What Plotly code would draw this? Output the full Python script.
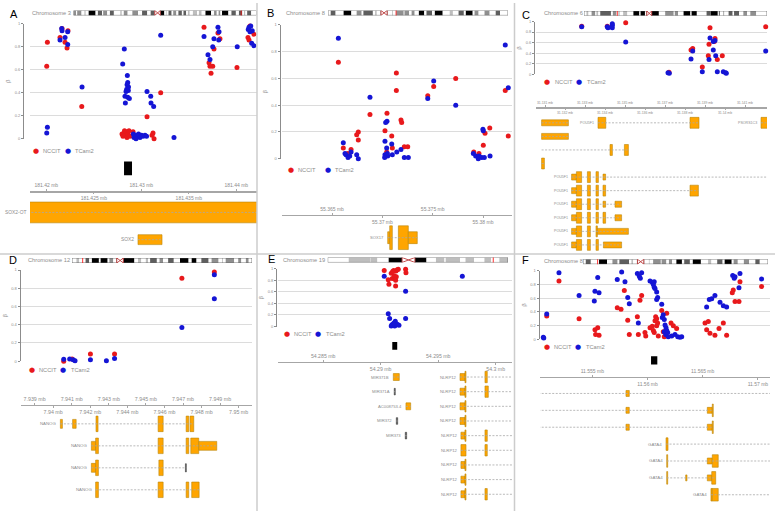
import plotly.graph_objects as go

W, H = 775, 513
RED, BLUE = '#E8191C', '#1515D5'
GREY_TXT = '#8C8C8C'
EXON_FILL, EXON_LINE = '#FFA500', '#B8860B'
STAIN_COLOR = {'g0': '#FFFFFF', 'g25': '#BEBEBE', 'g50': '#8F8F8F', 'g75': '#5E5E5E',
               'g100': '#000000', 'gvar': '#000000'}
BETA_TICKS = [0, 0.2, 0.4, 0.6, 0.8, 1]

# ---------------- cytobands (Mb) ----------------
CHR3_band_end = [2.8, 4.0, 8.7, 11.8, 13.3, 16.4, 23.9, 26.4, 30.9, 32.1, 36.5, 39.4, 43.7, 44.1, 44.2, 50.6,
                 52.3, 54.4, 58.6, 63.7, 69.8, 74.2, 79.8, 83.5, 87.2, 87.9, 91.0, 93.9, 98.3, 100.0, 100.9,
                 102.8, 106.2, 107.9, 111.3, 113.5, 117.3, 119.0, 121.9, 123.8, 125.8, 129.2, 133.7, 135.7,
                 138.7, 142.8, 148.9, 152.1, 155.0, 157.0, 159.0, 160.7, 167.6, 170.9, 175.7, 179.0, 182.7,
                 184.5, 186.0, 187.9, 192.3, 198.0]
CHR3_band_stain = ['g50', 'g0', 'g50', 'g0', 'g25', 'g0', 'g100', 'g0', 'g75', 'g0',
                   'g50', 'g0', 'g75', 'g0', 'g50', 'g0', 'g25', 'g0', 'g50', 'g0',
                   'g50', 'g0', 'g75', 'g0', 'g75', 'g0', 'acen', 'acen', 'gvar', 'g0',
                   'g25', 'g0', 'g75', 'g0', 'g50', 'g0', 'g75', 'g0', 'g75', 'g0',
                   'g25', 'g0', 'g25', 'g0', 'g25', 'g0', 'g100', 'g0', 'g50', 'g0',
                   'g50', 'g0', 'g100', 'g0', 'g75', 'g0', 'g75', 'g0', 'g25', 'g0',
                   'g75', 'g0']
CHR8_band_end = [2.2, 6.2, 12.7, 19.0, 23.3, 27.4, 28.8, 36.5, 38.3, 39.7, 43.1, 45.6, 48.1, 52.2, 52.6, 55.5,
                 61.6, 62.2, 66.0, 68.0, 70.5, 73.9, 78.3, 80.1, 84.6, 86.9, 93.3, 99.0, 101.6, 106.2, 110.5,
                 112.1, 117.7, 119.2, 122.5, 127.3, 131.5, 136.4, 139.9, 146.4]
CHR8_band_stain = ['g0', 'g75', 'g0', 'g100', 'g0', 'g50', 'g0', 'g75', 'g0', 'g25',
                   'g0', 'acen', 'acen', 'g0', 'g75', 'g0', 'g50', 'g0', 'g50', 'g0',
                   'g50', 'g0', 'g100', 'g0', 'g75', 'g0', 'g100', 'g0', 'g25', 'g0',
                   'g75', 'g0', 'g100', 'g0', 'g50', 'g0', 'g50', 'g0', 'g75', 'g0']
CHR6_band_end = [2.3, 4.2, 7.1, 10.6, 11.6, 13.4, 15.2, 25.2, 27.0, 30.4, 32.1, 33.5, 36.6, 40.5, 46.2, 51.8,
                 52.9, 57.0, 58.7, 61.0, 63.3, 63.4, 70.0, 75.9, 83.9, 84.9, 88.0, 93.1, 99.5, 100.6, 105.5,
                 114.6, 118.3, 118.4, 125.1, 126.1, 127.1, 130.3, 131.2, 135.2, 139.0, 140.3, 145.0, 149.0,
                 152.5, 155.5, 161.0, 171.1]
CHR6_band_stain = ['g0', 'g25', 'g0', 'g50', 'g0', 'g25', 'g0', 'g75', 'g0', 'g50',
                   'g0', 'g25', 'g0', 'g25', 'g0', 'g100', 'g0', 'g100', 'g0', 'acen',
                   'acen', 'g0', 'g100', 'g0', 'g50', 'g0', 'g50', 'g0', 'g100', 'g0',
                   'g100', 'g0', 'g75', 'g0', 'g100', 'g0', 'g75', 'g0', 'g50', 'g0',
                   'g75', 'g0', 'g75', 'g0', 'g50', 'g0', 'g50', 'g0']
CHR12_band_end = [3.3, 5.4, 10.1, 12.8, 14.8, 20.0, 21.3, 26.5, 27.8, 30.7, 33.3, 35.8, 38.2, 46.4, 49.1, 51.5,
                  54.9, 56.6, 58.1, 63.1, 65.1, 67.7, 71.5, 75.7, 80.3, 86.7, 89.0, 92.6, 96.2, 101.6, 103.8,
                  109.0, 111.7, 112.3, 114.3, 120.6, 123.6, 125.9, 129.3, 131.4, 133.85]
CHR12_band_stain = ['g0', 'g25', 'g0', 'g75', 'g0', 'g100', 'g0', 'g100', 'g0', 'g50',
                    'g0', 'acen', 'acen', 'g100', 'g0', 'g25', 'g0', 'g25', 'g0', 'g75',
                    'g0', 'g50', 'g0', 'g75', 'g0', 'g100', 'g0', 'g100', 'g0', 'g75',
                    'g0', 'g50', 'g0', 'g25', 'g0', 'g50', 'g0', 'g50', 'g0', 'g50', 'g0']
CHR19_band_end = [6.9, 13.9, 14.0, 16.3, 20.0, 24.4, 26.5, 28.6, 32.4, 35.5, 38.3, 38.7, 43.4, 45.2, 48.0,
                  51.4, 53.6, 56.3, 59.13]
CHR19_band_stain = ['g0', 'g25', 'g0', 'g25', 'g0', 'gvar', 'acen', 'acen', 'gvar', 'g0',
                    'g25', 'g0', 'g25', 'g0', 'g25', 'g0', 'g25', 'g0', 'g25']

# ---------------- Panel A : chr3 SOX2 ----------------
A_window = [181.41828, 181.44218]
A_ticks_up = [181.42, 181.43, 181.44]
A_ticks_lo = [181.425, 181.435]
A_nccit_pos = [181.42011, 181.42004, 181.42165, 181.42144, 181.42197, 181.42218, 181.42228, 181.42373,
               181.4306, 181.43204, 181.4366, 181.43807, 181.43828, 181.43765, 181.43713, 181.43752,
               181.43723, 181.43734, 181.44007, 181.44144, 181.44123, 181.44134, 181.44186,
               181.42797, 181.42807, 181.42818, 181.42828, 181.42839, 181.42849, 181.4286, 181.4287,
               181.42881, 181.42823, 181.42913, 181.43113, 181.43123, 181.43134]
A_nccit_beta = [0.84, 0.63, 0.96, 0.88, 0.84, 0.79, 0.94, 0.28,
                0.19, 0.40, 0.97, 0.92, 0.87, 0.78, 0.66, 0.63,
                0.63, 0.57, 0.62, 0.98, 0.88, 0.86, 0.91,
                0.04, 0.02, 0.05, 0.03, 0.06, 0.01, 0.04, 0.07,
                0.02, 0.07, 0.06, 0.03, 0.05, 0.0]
A_tcam2_pos = [181.42162, 181.42165, 181.42144, 181.42197, 181.42225, 181.42225, 181.42376, 181.42011, 181.42004,
               181.42821, 181.42804, 181.42853, 181.42857, 181.4285, 181.42846, 181.42839, 181.42863, 181.42828,
               181.42857, 181.42874, 181.42832, 181.42865,
               181.4306, 181.43099, 181.43102, 181.4313, 181.43204,
               181.4366, 181.43765, 181.43807, 181.43818, 181.43815, 181.43752, 181.43702, 181.43723,
               181.4401, 181.44134, 181.44152, 181.44126, 181.44144, 181.44168, 181.44162, 181.44186,
               181.42916, 181.42923, 181.42939, 181.42955, 181.42971, 181.42986, 181.43002, 181.43018,
               181.43039, 181.43055, 181.42944, 181.43344]
A_tcam2_beta = [0.96, 0.94, 0.86, 0.88, 0.93, 0.82, 0.45, 0.10, 0.05,
                0.78, 0.65, 0.55, 0.49, 0.47, 0.43, 0.41, 0.42, 0.37,
                0.36, 0.35, 0.31, 0.45,
                0.41, 0.37, 0.31, 0.28, 0.90,
                0.89, 0.87, 0.97, 0.93, 0.86, 0.80, 0.73, 0.69,
                0.80, 0.97, 0.98, 0.95, 0.93, 0.94, 0.83, 0.81,
                0.04, 0.01, 0.03, 0.02, 0.04, 0.01, 0.03, 0.02,
                0.03, 0.02, 0.0, 0.01]
A_cpg = [181.42818, 181.42902]
A_tx_label = ['SOX2-OT', 'SOX2']
A_tx_row = [0, 1]
A_tx_span = [[181.40, 181.46], [181.42965, 181.43218]]
A_tx_exons = [[[181.40, 181.46, 'T']], [[181.42965, 181.43218, 'S']]]

# ---------------- Panel B : chr8 SOX17 ----------------
B_window = [55.36003, 55.38288]
B_ticks_up = [55.365, 55.375]
B_ticks_lo = [55.37, 55.38]
B_nccit_pos = [55.36563, 55.37139, 55.3751, 55.37729, 55.37139, 55.37451, 55.36877, 55.37046, 55.37185, 55.38221,
               55.36761, 55.37026, 55.38067, 55.37192, 55.36745, 55.36761, 55.36612, 55.36689, 55.36656, 55.37093,
               55.37099, 55.37043, 55.37218, 55.37252, 55.3802, 55.38003, 55.37908, 55.3796, 55.38251]
B_nccit_beta = [0.72, 0.64, 0.54, 0.60, 0.51, 0.47, 0.33, 0.34, 0.29, 0.51,
                0.20, 0.21, 0.23, 0.27, 0.18, 0.14, 0.08, 0.07, 0.04, 0.17,
                0.08, 0.05, 0.09, 0.09, 0.19, 0.10, 0.05, 0.04, 0.17]
B_tcam2_pos = [55.36563, 55.3751, 55.37451, 55.36877, 55.37729, 55.37046, 55.38221, 55.38251, 55.37999, 55.37033,
               55.36612, 55.36689, 55.36639, 55.36659, 55.36629, 55.36676, 55.36745, 55.36761, 55.37026, 55.37093,
               55.37043, 55.37026, 55.37053, 55.37023, 55.3705, 55.37099, 55.37143, 55.37185, 55.37218, 55.37258,
               55.38003, 55.37904, 55.37927, 55.3796, 55.37953, 55.37987, 55.38013, 55.3807]
B_tcam2_beta = [0.90, 0.58, 0.45, 0.46, 0.40, 0.28, 0.85, 0.53, 0.22, 0.27,
                0.12, 0.05, 0.03, 0.01, 0.04, 0.02, 0.03, 0.0, 0.13, 0.11,
                0.08, 0.03, 0.02, 0.01, 0.04, 0.03, 0.05, 0.07, 0.01, 0.01,
                0.21, 0.04, 0.02, 0.02, 0.0, 0.01, 0.01, 0.02]
B_cpg = None
B_tx_label = ['SOX17']
B_tx_row = [0]
B_tx_span = [[55.37053, 55.37347]]
B_tx_exons = [[[55.37053, 55.37073, 'S'], [55.37073, 55.37099, 'T'], [55.37159, 55.37258, 'T'],
               [55.37258, 55.37347, 'S']]]

# ---------------- Panel C : chr6 POU5F1 ----------------
C_window = [31.130535, 31.1421]
C_ticks_up = [31.131, 31.133, 31.135, 31.137, 31.139, 31.141]
C_ticks_lo = [31.132, 31.134, 31.136, 31.138, 31.14]
C_nccit_pos = [31.132835, 31.134115, 31.135035, 31.1372, 31.1383, 31.138385, 31.138865, 31.13925, 31.1392,
               31.1395, 31.139465, 31.139165, 31.139615, 31.139865, 31.142035]
C_nccit_beta = [0.91, 0.91, 0.975, 0.04, 0.46, 0.49, 0.14, 0.88, 0.57, 0.68, 0.62, 0.35, 0.28, 0.35, 0.90]
C_tcam2_pos = [31.132835, 31.134115, 31.13415, 31.134365, 31.134365, 31.134365, 31.135035, 31.13715, 31.137215,
               31.138385, 31.1383, 31.138865, 31.13925, 31.1395, 31.139415, 31.139415, 31.1392, 31.139535,
               31.139615, 31.139915, 31.140035, 31.140065, 31.142035]
C_tcam2_beta = [0.90, 0.90, 0.88, 0.96, 0.93, 0.88, 0.61, 0.03, 0.02, 0.44, 0.29, 0.05, 0.69, 0.64, 0.62,
                0.46, 0.28, 0.35, 0.05, 0.05, 0.03, 0.02, 0.44]
C_cpg = None
C_tx_label = ['', 'POU5F1', 'PSORS1C3', '', '', '', 'POU5F1', 'POU5F1', 'POU5F1', 'POU5F1', 'POU5F1', 'POU5F1']
C_tx_row = [0, 0, 0, 1, 2, 3, 4, 5, 6, 7, 8, 9]
C_tx_span = [[31.13083, 31.13217], [31.13365, 31.1387], [31.1418, 31.1430], [31.13083, 31.13217],
             [31.13083, 31.13517], [31.13083, 31.13097], [31.13233, 31.1430], [31.13233, 31.13867],
             [31.13233, 31.13483], [31.13233, 31.13483], [31.13233, 31.13517], [31.13233, 31.13483]]
C_tx_exons = [
    [[31.13083, 31.13217, 'S']],
    [[31.13365, 31.13404, 'T'], [31.13825, 31.1387, 'T']],
    [[31.1418, 31.1430, 'T']],
    [[31.13083, 31.13217, 'S']],
    [[31.13425, 31.13437, 'T'], [31.13497, 31.13517, 'T']],
    [[31.13083, 31.13097, 'T']],
    [[31.13233, 31.13257, 'S'], [31.13257, 31.13283, 'T'], [31.13312, 31.13327, 'T'], [31.13355, 31.13367, 'T'],
     [31.1339, 31.13403, 'S']],
    [[31.13233, 31.13257, 'S'], [31.13257, 31.13283, 'T'], [31.13312, 31.13327, 'T'], [31.13355, 31.13367, 'T'],
     [31.1339, 31.13403, 'T'], [31.13825, 31.13867, 'T']],
    [[31.13233, 31.13257, 'S'], [31.13257, 31.13283, 'T'], [31.13312, 31.13327, 'T'], [31.13355, 31.13367, 'T'],
     [31.1339, 31.13403, 'S'], [31.1345, 31.13483, 'S']],
    [[31.13233, 31.13257, 'S'], [31.13257, 31.13283, 'T'], [31.13312, 31.13327, 'T'], [31.13355, 31.13367, 'T'],
     [31.1339, 31.13403, 'T'], [31.1345, 31.13483, 'S']],
    [[31.13233, 31.13257, 'S'], [31.13257, 31.13283, 'T'], [31.13312, 31.13327, 'T'], [31.13355, 31.13362, 'T'],
     [31.13362, 31.13517, 'S']],
    [[31.13233, 31.13257, 'S'], [31.13257, 31.13283, 'T'], [31.13312, 31.13327, 'T'], [31.13355, 31.13367, 'T'],
     [31.13392, 31.13483, 'S']],
]

# ---------------- Panel D : chr12 NANOG ----------------
D_window = [7.93824, 7.95072]
D_ticks_up = [7.939, 7.941, 7.943, 7.945, 7.947, 7.949]
D_ticks_lo = [7.94, 7.942, 7.944, 7.946, 7.948, 7.95]
D_nccit_pos = [7.94694, 7.94869, 7.94201, 7.94331, 7.94057, 7.94102]
D_nccit_beta = [0.91, 0.98, 0.08, 0.08, 0.0, 0.025]
D_tcam2_pos = [7.94869, 7.94869, 7.94694, 7.94201, 7.94331, 7.94287, 7.94057, 7.94089, 7.94108, 7.94118]
D_tcam2_beta = [0.95, 0.685, 0.37, 0.015, 0.03, 0.005, 0.02, 0.025, 0.015, 0.005]
D_cpg = None
D_tx_label = ['NANOG', 'NANOG', 'NANOG', 'NANOG']
D_tx_row = [0, 1, 2, 3]
D_tx_span = [[7.94039, 7.94758], [7.94206, 7.94882], [7.94206, 7.94718], [7.94229, 7.94787]]
D_tx_exons = [
    [[7.94039, 7.9405, 'S'], [7.94105, 7.94124, 'S'], [7.94231, 7.94242, 'T'], [7.94566, 7.94593, 'T'],
     [7.94717, 7.94731, 'T'], [7.94738, 7.94758, 'T']],
    [[7.94206, 7.94229, 'S'], [7.94229, 7.94244, 'T'], [7.94566, 7.94593, 'T'], [7.94717, 7.94731, 'T'],
     [7.94742, 7.94785, 'T'], [7.94785, 7.94882, 'S']],
    [[7.94206, 7.94229, 'S'], [7.94229, 7.94244, 'T'], [7.9457, 7.94593, 'T'], [7.94713, 7.94718, 'N']],
    [[7.94229, 7.94244, 'T'], [7.94566, 7.94593, 'T'], [7.94717, 7.94731, 'T'], [7.94747, 7.94787, 'T']],
]

# ---------------- Panel E : chr19 miR-371-373 / NLRP12 ----------------
E_window = [54.28103, 54.30142]
E_ticks_up = [54.285, 54.295]
E_ticks_lo = [54.29, 54.3]
E_nccit_pos = [54.29031, 54.29066, 54.29072, 54.29101, 54.29092, 54.29113, 54.29133, 54.29144, 54.29118,
               54.29136, 54.2913, 54.2913, 54.29153, 54.29217, 54.2922, 54.29104]
E_nccit_beta = [0.97, 0.81, 0.73, 0.83, 0.92, 0.97, 0.96, 0.98, 0.88, 0.86, 0.80, 0.70, 0.99, 0.99, 0.93, 0.95]
E_tcam2_pos = [54.29031, 54.29217, 54.2971, 54.29066, 54.29078, 54.29217, 54.29127, 54.29116, 54.29098,
               54.29136, 54.29092, 54.29122, 54.29144, 54.29159, 54.29111]
E_tcam2_beta = [0.87, 0.61, 0.87, 0.22, 0.14, 0.14, 0.09, 0.06, 0.03, 0.03, 0.01, 0.01, 0.04, 0.02, 0.05]
E_cpg = [54.29101, 54.29144]
E_tx_label = ['MIR371B', 'MIR371A', 'AC008753.4', 'MIR372', 'MIR373',
              'NLRP12', 'NLRP12', 'NLRP12', 'NLRP12', 'NLRP12', 'NLRP12', 'NLRP12', 'NLRP12', 'NLRP12']
E_tx_row = [0, 1, 2, 3, 4, 0, 1, 2, 3, 4, 5, 6, 7, 8]
E_tx_span = [[54.2911, 54.29162], [54.29118, 54.29127], [54.2922, 54.29261], [54.29136, 54.29148],
             [54.29214, 54.29226],
             [54.2969, 54.3020], [54.2969, 54.3020], [54.2969, 54.3020], [54.2969, 54.3020], [54.29698, 54.3020],
             [54.29698, 54.3020], [54.29698, 54.3020], [54.29698, 54.3020], [54.29698, 54.3020]]
E_tx_exons = [
    [[54.2911, 54.29162, 'S']],
    [[54.29118, 54.29127, 'N']],
    [[54.2922, 54.29261, 'S']],
    [[54.29136, 54.29148, 'N']],
    [[54.29214, 54.29226, 'N']],
    [[54.2969, 54.29733, 'S'], [54.29733, 54.29742, 'T'], [54.29907, 54.29927, 'T']],
    [[54.2969, 54.29733, 'S'], [54.29733, 54.29742, 'T'], [54.29907, 54.29936, 'T']],
    [[54.2969, 54.29733, 'S'], [54.29733, 54.29742, 'T']],
    [[54.2969, 54.29733, 'S'], [54.29733, 54.29742, 'T']],
    [[54.29698, 54.29733, 'S'], [54.29733, 54.29742, 'T'], [54.29907, 54.29927, 'T']],
    [[54.29698, 54.29742, 'T'], [54.29907, 54.29927, 'T']],
    [[54.29698, 54.29733, 'S'], [54.29733, 54.29742, 'T']],
    [[54.29698, 54.29733, 'S'], [54.29733, 54.29742, 'T']],
    [[54.29698, 54.29733, 'S'], [54.29733, 54.29742, 'T'], [54.29907, 54.29927, 'T']],
]

# ---------------- Panel F : chr8 GATA4 ----------------
F_window = [11.55026, 11.5711]
F_ticks_up = [11.555, 11.565]
F_ticks_lo = [11.56, 11.57]
F_nccit_pos = [11.55087, 11.55198, 11.5538, 11.55524, 11.55549, 11.5553, 11.55561, 11.55726, 11.5576, 11.5579,
               11.55821, 11.55835, 11.55908, 11.55917, 11.55932, 11.55947, 11.55977, 11.55984, 11.56023, 11.56043,
               11.56053, 11.56068, 11.56074, 11.56083, 11.56092, 11.56083, 11.56061, 11.56098, 11.56129, 11.56143,
               11.56152, 11.56174, 11.56213, 11.56234, 11.56264, 11.56521, 11.56551, 11.56536, 11.56566, 11.56611,
               11.56648, 11.56687, 11.56717, 11.56768, 11.56777, 11.56793, 11.56829, 11.56838, 11.57034]
F_nccit_beta = [0.34, 0.85, 0.30, 0.14, 0.17, 0.07, 0.06, 0.46, 0.44, 0.71,
                0.28, 0.07, 0.33, 0.07, 0.57, 0.64, 0.10, 0.05, 0.17, 0.19,
                0.13, 0.27, 0.33, 0.30, 0.24, 0.20, 0.10, 0.05, 0.42, 0.11,
                0.04, 0.38, 0.24, 0.20, 0.16, 0.24, 0.26, 0.14, 0.09, 0.06,
                0.16, 0.24, 0.06, 0.68, 0.72, 0.55, 0.55, 0.84, 0.77]
F_tcam2_pos = [11.55056, 11.5506, 11.55087, 11.55198, 11.5538, 11.55549, 11.55524, 11.55561, 11.55518, 11.55726,
               11.55766, 11.55796, 11.55821, 11.55835, 11.55908, 11.55926, 11.55947, 11.55935, 11.55917, 11.56023,
               11.56043, 11.56061, 11.56053, 11.56061, 11.56068, 11.56083, 11.56092, 11.56083, 11.56129, 11.56143,
               11.56134, 11.56152, 11.56159, 11.56168, 11.56174, 11.56152, 11.56183, 11.56165, 11.56188, 11.56219,
               11.56249, 11.56274, 11.56294, 11.5631, 11.56536, 11.5656, 11.56582, 11.56611, 11.56657, 11.56687,
               11.56717, 11.56772, 11.56786, 11.56793, 11.56838, 11.56829, 11.57034]
F_tcam2_beta = [0.03, 0.02, 0.37, 0.97, 0.64, 0.90, 0.70, 0.68, 0.56, 0.87,
                0.98, 0.84, 0.61, 0.52, 0.96, 0.92, 0.97, 0.89, 0.24, 0.85,
                0.83, 0.84, 0.80, 0.76, 0.74, 0.69, 0.61, 0.58, 0.51, 0.36,
                0.32, 0.29, 0.21, 0.17, 0.13, 0.11, 0.10, 0.07, 0.04, 0.05,
                0.07, 0.04, 0.03, 0.04, 0.47, 0.58, 0.59, 0.64, 0.54, 0.49,
                0.47, 0.93, 0.89, 0.91, 0.96, 0.75, 0.88]
F_cpg = [11.56032, 11.56089]
F_tx_label = ['', '', '', 'GATA4', 'GATA4', 'GATA4', 'GATA4']
F_tx_row = [0, 1, 2, 3, 4, 5, 6]
F_tx_span = [[11.5501, 11.5715], [11.5501, 11.56596], [11.5501, 11.56596], [11.56168, 11.5715],
             [11.56174, 11.5715], [11.56174, 11.56618], [11.56575, 11.5715]]
F_tx_exons = [
    [[11.55805, 11.55835, 'S']],
    [[11.55805, 11.55835, 'S'], [11.56542, 11.56587, 'S'], [11.56587, 11.56596, 'T']],
    [[11.55805, 11.55835, 'S'], [11.56542, 11.56587, 'S'], [11.56587, 11.56596, 'T']],
    [[11.56168, 11.56186, 'T']],
    [[11.56174, 11.56183, 'T'], [11.56542, 11.56587, 'S'], [11.56587, 11.56641, 'T']],
    [[11.56174, 11.56183, 'T'], [11.56346, 11.56358, 'S'], [11.56542, 11.56582, 'S'], [11.56582, 11.56618, 'T']],
    [[11.56575, 11.56587, 'T'], [11.56587, 11.56641, 'T']],
]

DATA = [
    dict(chrom='Chromosome 3', bands=(CHR3_band_end, CHR3_band_stain), window=A_window, up=A_ticks_up,
         lo=A_ticks_lo, nc=(A_nccit_pos, A_nccit_beta), tc=(A_tcam2_pos, A_tcam2_beta), cpg=A_cpg,
         tx=(A_tx_label, A_tx_row, A_tx_span, A_tx_exons)),
    dict(chrom='Chromosome 8', bands=(CHR8_band_end, CHR8_band_stain), window=B_window, up=B_ticks_up,
         lo=B_ticks_lo, nc=(B_nccit_pos, B_nccit_beta), tc=(B_tcam2_pos, B_tcam2_beta), cpg=B_cpg,
         tx=(B_tx_label, B_tx_row, B_tx_span, B_tx_exons)),
    dict(chrom='Chromosome 6', bands=(CHR6_band_end, CHR6_band_stain), window=C_window, up=C_ticks_up,
         lo=C_ticks_lo, nc=(C_nccit_pos, C_nccit_beta), tc=(C_tcam2_pos, C_tcam2_beta), cpg=C_cpg,
         tx=(C_tx_label, C_tx_row, C_tx_span, C_tx_exons)),
    dict(chrom='Chromosome 12', bands=(CHR12_band_end, CHR12_band_stain), window=D_window, up=D_ticks_up,
         lo=D_ticks_lo, nc=(D_nccit_pos, D_nccit_beta), tc=(D_tcam2_pos, D_tcam2_beta), cpg=D_cpg,
         tx=(D_tx_label, D_tx_row, D_tx_span, D_tx_exons)),
    dict(chrom='Chromosome 19', bands=(CHR19_band_end, CHR19_band_stain), window=E_window, up=E_ticks_up,
         lo=E_ticks_lo, nc=(E_nccit_pos, E_nccit_beta), tc=(E_tcam2_pos, E_tcam2_beta), cpg=E_cpg,
         tx=(E_tx_label, E_tx_row, E_tx_span, E_tx_exons)),
    dict(chrom='Chromosome 8', bands=(CHR8_band_end, CHR8_band_stain), window=F_window, up=F_ticks_up,
         lo=F_ticks_lo, nc=(F_nccit_pos, F_nccit_beta), tc=(F_tcam2_pos, F_tcam2_beta), cpg=F_cpg,
         tx=(F_tx_label, F_tx_row, F_tx_span, F_tx_exons)),
]

# ---------------- layout (pixels) ----------------
LAYOUT = [
    dict(letter='A', letter_xy=(8, 11), chrom_xy=(30, 10), ideo=(73.5, 256.5, 7.5, 12.5),
         scatter=(30, 257, 21, 137), yaxis_x=23, legend=(149, 36, 41, 68, 73), track=(150, 253), line_y=190,
         rect=(167, 14), row0=211.5, row_dy=27.5, h=dict(T=21, S=10, N=9), fs_axis=5, fs_gene=4.9),
    dict(letter='B', letter_xy=(265, 10), chrom_xy=(284, 10), ideo=(328, 508, 7.5, 12.5),
         scatter=(282, 512, 22, 157.3), yaxis_x=279.5, legend=(169, 290.7, 296, 327.7, 333), track=(175, 253),
         line_y=214, rect=None, row0=237, row_dy=14, h=dict(T=24, S=12, N=10), fs_axis=5, fs_gene=4.1),
    dict(letter='C', letter_xy=(520, 12), chrom_xy=(542, 10), ideo=(584, 767, 8, 13),
         scatter=(535.7, 767, 18.7, 72), yaxis_x=534, legend=(80, 547.3, 553, 579.3, 585), track=(86, 253),
         line_y=105.3, rect=None, row0=121, row_dy=13.7, h=dict(T=11, S=6, N=6), fs_axis=3.4, fs_gene=3.6),
    dict(letter='D', letter_xy=(6.5, 260), chrom_xy=(26, 259.7), ideo=(72, 252, 257.5, 262.5),
         scatter=(20.5, 252, 269.7, 361.7), yaxis_x=19.5, legend=(371, 32, 37, 63.3, 69), track=(378, 513),
         line_y=405.7, rect=None, row0=425, row_dy=22.2, h=dict(T=15.7, S=9, N=8.3), fs_axis=5.3, fs_gene=4.3),
    dict(letter='E', letter_xy=(265.5, 259), chrom_xy=(281, 259.7), ideo=(327.7, 508, 257, 262),
         scatter=(277.5, 512, 268.3, 326.7), yaxis_x=276, legend=(334.3, 286.7, 292, 318.3, 324),
         track=(338, 513), line_y=362.3, rect=(346.2, 7.7), row0=377.7, row_dy=14.8,
         h=dict(T=11.5, S=7, N=6.7), fs_axis=5.2, fs_gene=4.2),
    dict(letter='F', letter_xy=(520, 260), chrom_xy=(541.7, 261), ideo=(583, 768, 258.7, 263.7),
         scatter=(540, 770, 270.3, 339.7), yaxis_x=538.5, legend=(347, 547, 552, 578.3, 584), track=(350, 513),
         line_y=377.3, rect=(360.8, 8.3), row0=394.3, row_dy=17.05, h=dict(T=12.7, S=6, N=6),
         fs_axis=5, fs_gene=4.4),
]


def fxp(v):
    return v / W


def fyp(v):
    return 1 - v / H


def xname(n):
    return 'x' if n == 1 else f'x{n}'


def yname(n):
    return 'y' if n == 1 else f'y{n}'


def xkey(n):
    return 'xaxis' if n == 1 else f'xaxis{n}'


def ykey(n):
    return 'yaxis' if n == 1 else f'yaxis{n}'


fig = go.Figure()
lay = {}
ann = []
FONT = 'Liberation Sans, Arial, sans-serif'

for i, (D, L) in enumerate(zip(DATA, LAYOUT)):
    nxS, nxT, nxL, nxI = 4 * i + 1, 4 * i + 2, 4 * i + 3, 4 * i + 4
    nyS, nyT, nyI = 3 * i + 1, 3 * i + 2, 3 * i + 3
    win = D['window']
    sx0, sx1, sy1, sy0 = L['scatter']

    # ---- data track (scatter) ----
    lay[xkey(nxS)] = dict(domain=[fxp(sx0), fxp(sx1)], range=win, visible=False, anchor=yname(nyS))
    lay[ykey(nyS)] = dict(domain=[fyp(sy0), fyp(sy1)], range=[0, 1], anchor='free', position=fxp(L['yaxis_x']),
                          tickvals=BETA_TICKS, ticktext=[f'{t:g}' for t in BETA_TICKS], showgrid=True,
                          gridcolor='#DCDCDC', gridwidth=1, zeroline=False, showline=True, linecolor='#8C8C8C',
                          linewidth=1, ticks='outside', ticklen=2, tickcolor='#8C8C8C',
                          tickfont=dict(size=4, color=GREY_TXT, family=FONT),
                          title=dict(text='β', font=dict(size=5.5, color=GREY_TXT, family=FONT), standoff=2))
    for (pos, beta), col in ((D['nc'], RED), (D['tc'], BLUE)):
        fig.add_trace(go.Scatter(x=pos, y=beta, mode='markers', marker=dict(size=5, color=col, line=dict(width=0)),
                                 cliponaxis=False, xaxis=xname(nxS), yaxis=yname(nyS), showlegend=False,
                                 hoverinfo='skip'))

    # legend
    ly, rdx, rtx, bdx, btx = L['legend']
    for dx, tx, col, name in ((rdx, rtx, RED, 'NCCIT'), (bdx, btx, BLUE, 'TCam2')):
        ann.append(dict(x=fxp(dx), y=fyp(ly), xref='paper', yref='paper', text='●', showarrow=False,
                        xanchor='center', yanchor='middle', font=dict(size=7, color=col, family='DejaVu Sans')))
        ann.append(dict(x=fxp(tx), y=fyp(ly), xref='paper', yref='paper', text=name, showarrow=False,
                        xanchor='left', yanchor='middle', font=dict(size=5.7, color=GREY_TXT, family=FONT)))

    # ---- genome axis + gene track ----
    ttop, tbot = L['track']
    lay[xkey(nxT)] = dict(domain=[fxp(sx0), fxp(sx1)], range=win, anchor='free', position=fyp(L['line_y']),
                          side='top', tickvals=D['up'], ticktext=[f'{v:g} mb' for v in D['up']], tickangle=0,
                          showline=True, linecolor='#A6A6A6', linewidth=1.5, ticks='outside', ticklen=2,
                          tickcolor='#A6A6A6', tickfont=dict(size=L['fs_axis'], color=GREY_TXT, family=FONT),
                          showgrid=False, zeroline=False)
    lay[ykey(nyT)] = dict(domain=[fyp(tbot), fyp(ttop)], range=[tbot, ttop], anchor=xname(nxT), visible=False)
    lay[xkey(nxL)] = dict(overlaying=xname(nxT), anchor='free', position=fyp(L['line_y']), side='bottom',
                          range=win, tickvals=D['lo'], ticktext=[f'{v:g} mb' for v in D['lo']], tickangle=0,
                          showline=False, ticks='outside', ticklen=2, tickcolor='#A6A6A6',
                          tickfont=dict(size=L['fs_axis'], color=GREY_TXT, family=FONT),
                          showgrid=False, zeroline=False)

    labels, rows, spans, exons = D['tx']
    ix, iy = [], []
    for span, row in zip(spans, rows):
        yv = L['row0'] + row * L['row_dy']
        ix += [span[0], span[1], None]
        iy += [yv, yv, None]
    fig.add_trace(go.Scatter(x=ix, y=iy, mode='lines', line=dict(color='#A8A8A8', width=0.8, dash='2px,1.5px'),
                             xaxis=xname(nxL), yaxis=yname(nyT), showlegend=False, hoverinfo='skip'))
    base, wid, yy, hh, fc, lc = [], [], [], [], [], []
    for exs, row in zip(exons, rows):
        yv = L['row0'] + row * L['row_dy']
        for s, e, k in exs:
            base.append(s)
            wid.append(e - s)
            yy.append(yv)
            hh.append(L['h'][k])
            fc.append('#555555' if k == 'N' else EXON_FILL)
            lc.append('#444444' if k == 'N' else EXON_LINE)
    fig.add_trace(go.Bar(orientation='h', base=base, x=wid, y=yy, width=hh,
                         marker=dict(color=fc, line=dict(color=lc, width=0.6)),
                         xaxis=xname(nxT), yaxis=yname(nyT), showlegend=False, hoverinfo='skip'))
    for lab, span, row in zip(labels, spans, rows):
        if lab:
            yv = L['row0'] + row * L['row_dy']
            ann.append(dict(x=max(span[0], win[0]), y=yv, xref=xname(nxT), yref=yname(nyT), text=lab,
                            showarrow=False, xanchor='right', yanchor='middle', xshift=-2,
                            font=dict(size=L['fs_gene'], color=GREY_TXT, family=FONT)))
    if D['cpg'] is not None:
        rc, rh = L['rect']
        fig.add_trace(go.Bar(orientation='h', base=[D['cpg'][0]], x=[D['cpg'][1] - D['cpg'][0]], y=[rc],
                             width=[rh], marker=dict(color='#000000', line=dict(width=0)),
                             xaxis=xname(nxL), yaxis=yname(nyT), showlegend=False, hoverinfo='skip'))

    # ---- ideogram ----
    ends, stains = D['bands']
    starts = [0] + ends[:-1]
    clen = ends[-1]
    ix0, ix1, iy0, iy1 = L['ideo']
    lay[xkey(nxI)] = dict(domain=[fxp(ix0), fxp(ix1)], range=[0, clen], visible=False, anchor=yname(nyI))
    lay[ykey(nyI)] = dict(domain=[fyp(iy1), fyp(iy0)], range=[-0.5, 0.5], visible=False, anchor=xname(nxI))
    bb = [(s, e, c) for s, e, c in zip(starts, ends, stains) if c != 'acen']
    fig.add_trace(go.Bar(orientation='h', base=[b[0] for b in bb], x=[b[1] - b[0] for b in bb], y=[0] * len(bb),
                         width=[1] * len(bb), marker=dict(color=[STAIN_COLOR[b[2]] for b in bb], line=dict(width=0)),
                         xaxis=xname(nxI), yaxis=yname(nyI), showlegend=False, hoverinfo='skip'))
    ac = [(s, e) for s, e, c in zip(starts, ends, stains) if c == 'acen']
    (s1, e1), (s2, e2) = ac[0], ac[-1]
    fig.add_trace(go.Scatter(x=[0, s1, s1, 0, 0, None, e2, clen, clen, e2, e2],
                             y=[-0.5, -0.5, 0.5, 0.5, -0.5, None, -0.5, -0.5, 0.5, 0.5, -0.5],
                             mode='lines', line=dict(color='#555555', width=0.7), cliponaxis=False,
                             xaxis=xname(nxI), yaxis=yname(nyI), showlegend=False, hoverinfo='skip'))
    fig.add_trace(go.Scatter(x=[s1, e1, s1, s1, None, e2, s2, e2, e2],
                             y=[-0.5, 0, 0.5, -0.5, None, -0.5, 0, 0.5, -0.5],
                             mode='lines', fill='toself', fillcolor='#FFFFFF',
                             line=dict(color='#B22222', width=0.8), cliponaxis=False,
                             xaxis=xname(nxI), yaxis=yname(nyI), showlegend=False, hoverinfo='skip'))
    mid = (win[0] + win[1]) / 2
    fig.add_trace(go.Scatter(x=[mid, mid], y=[-0.8, 0.8], mode='lines', line=dict(color='#FF0000', width=0.8),
                             cliponaxis=False, xaxis=xname(nxI), yaxis=yname(nyI), showlegend=False,
                             hoverinfo='skip'))

    # ---- labels ----
    ann.append(dict(x=fxp(L['letter_xy'][0]), y=fyp(L['letter_xy'][1]), xref='paper', yref='paper',
                    text=L['letter'], showarrow=False, xanchor='left', yanchor='middle',
                    font=dict(size=11, color='#000000', family=FONT)))
    ann.append(dict(x=fxp(L['chrom_xy'][0]), y=fyp(L['chrom_xy'][1]), xref='paper', yref='paper',
                    text=D['chrom'], showarrow=False, xanchor='left', yanchor='middle',
                    font=dict(size=5.7, color=GREY_TXT, family=FONT)))

shapes = [
    dict(type='line', xref='paper', yref='paper', x0=fxp(257), x1=fxp(257), y0=0, y1=1,
         line=dict(color='#CCCCCC', width=1.5)),
    dict(type='line', xref='paper', yref='paper', x0=fxp(514.5), x1=fxp(514.5), y0=0, y1=1,
         line=dict(color='#CCCCCC', width=1.5)),
    dict(type='line', xref='paper', yref='paper', x0=0, x1=1, y0=fyp(253.5), y1=fyp(253.5),
         line=dict(color='#CCCCCC', width=1.5)),
]

fig.update_layout(width=W, height=H, autosize=False, margin=dict(l=0, r=0, t=0, b=0),
                  paper_bgcolor='white', plot_bgcolor='white', barmode='overlay', showlegend=False,
                  hovermode=False, annotations=ann, shapes=shapes, font=dict(family=FONT), **lay)
fig.write_html('out.html', config={'displayModeBar': False, 'staticPlot': True},
               post_script="document.body.style.margin='0';document.body.style.overflow='hidden';")
